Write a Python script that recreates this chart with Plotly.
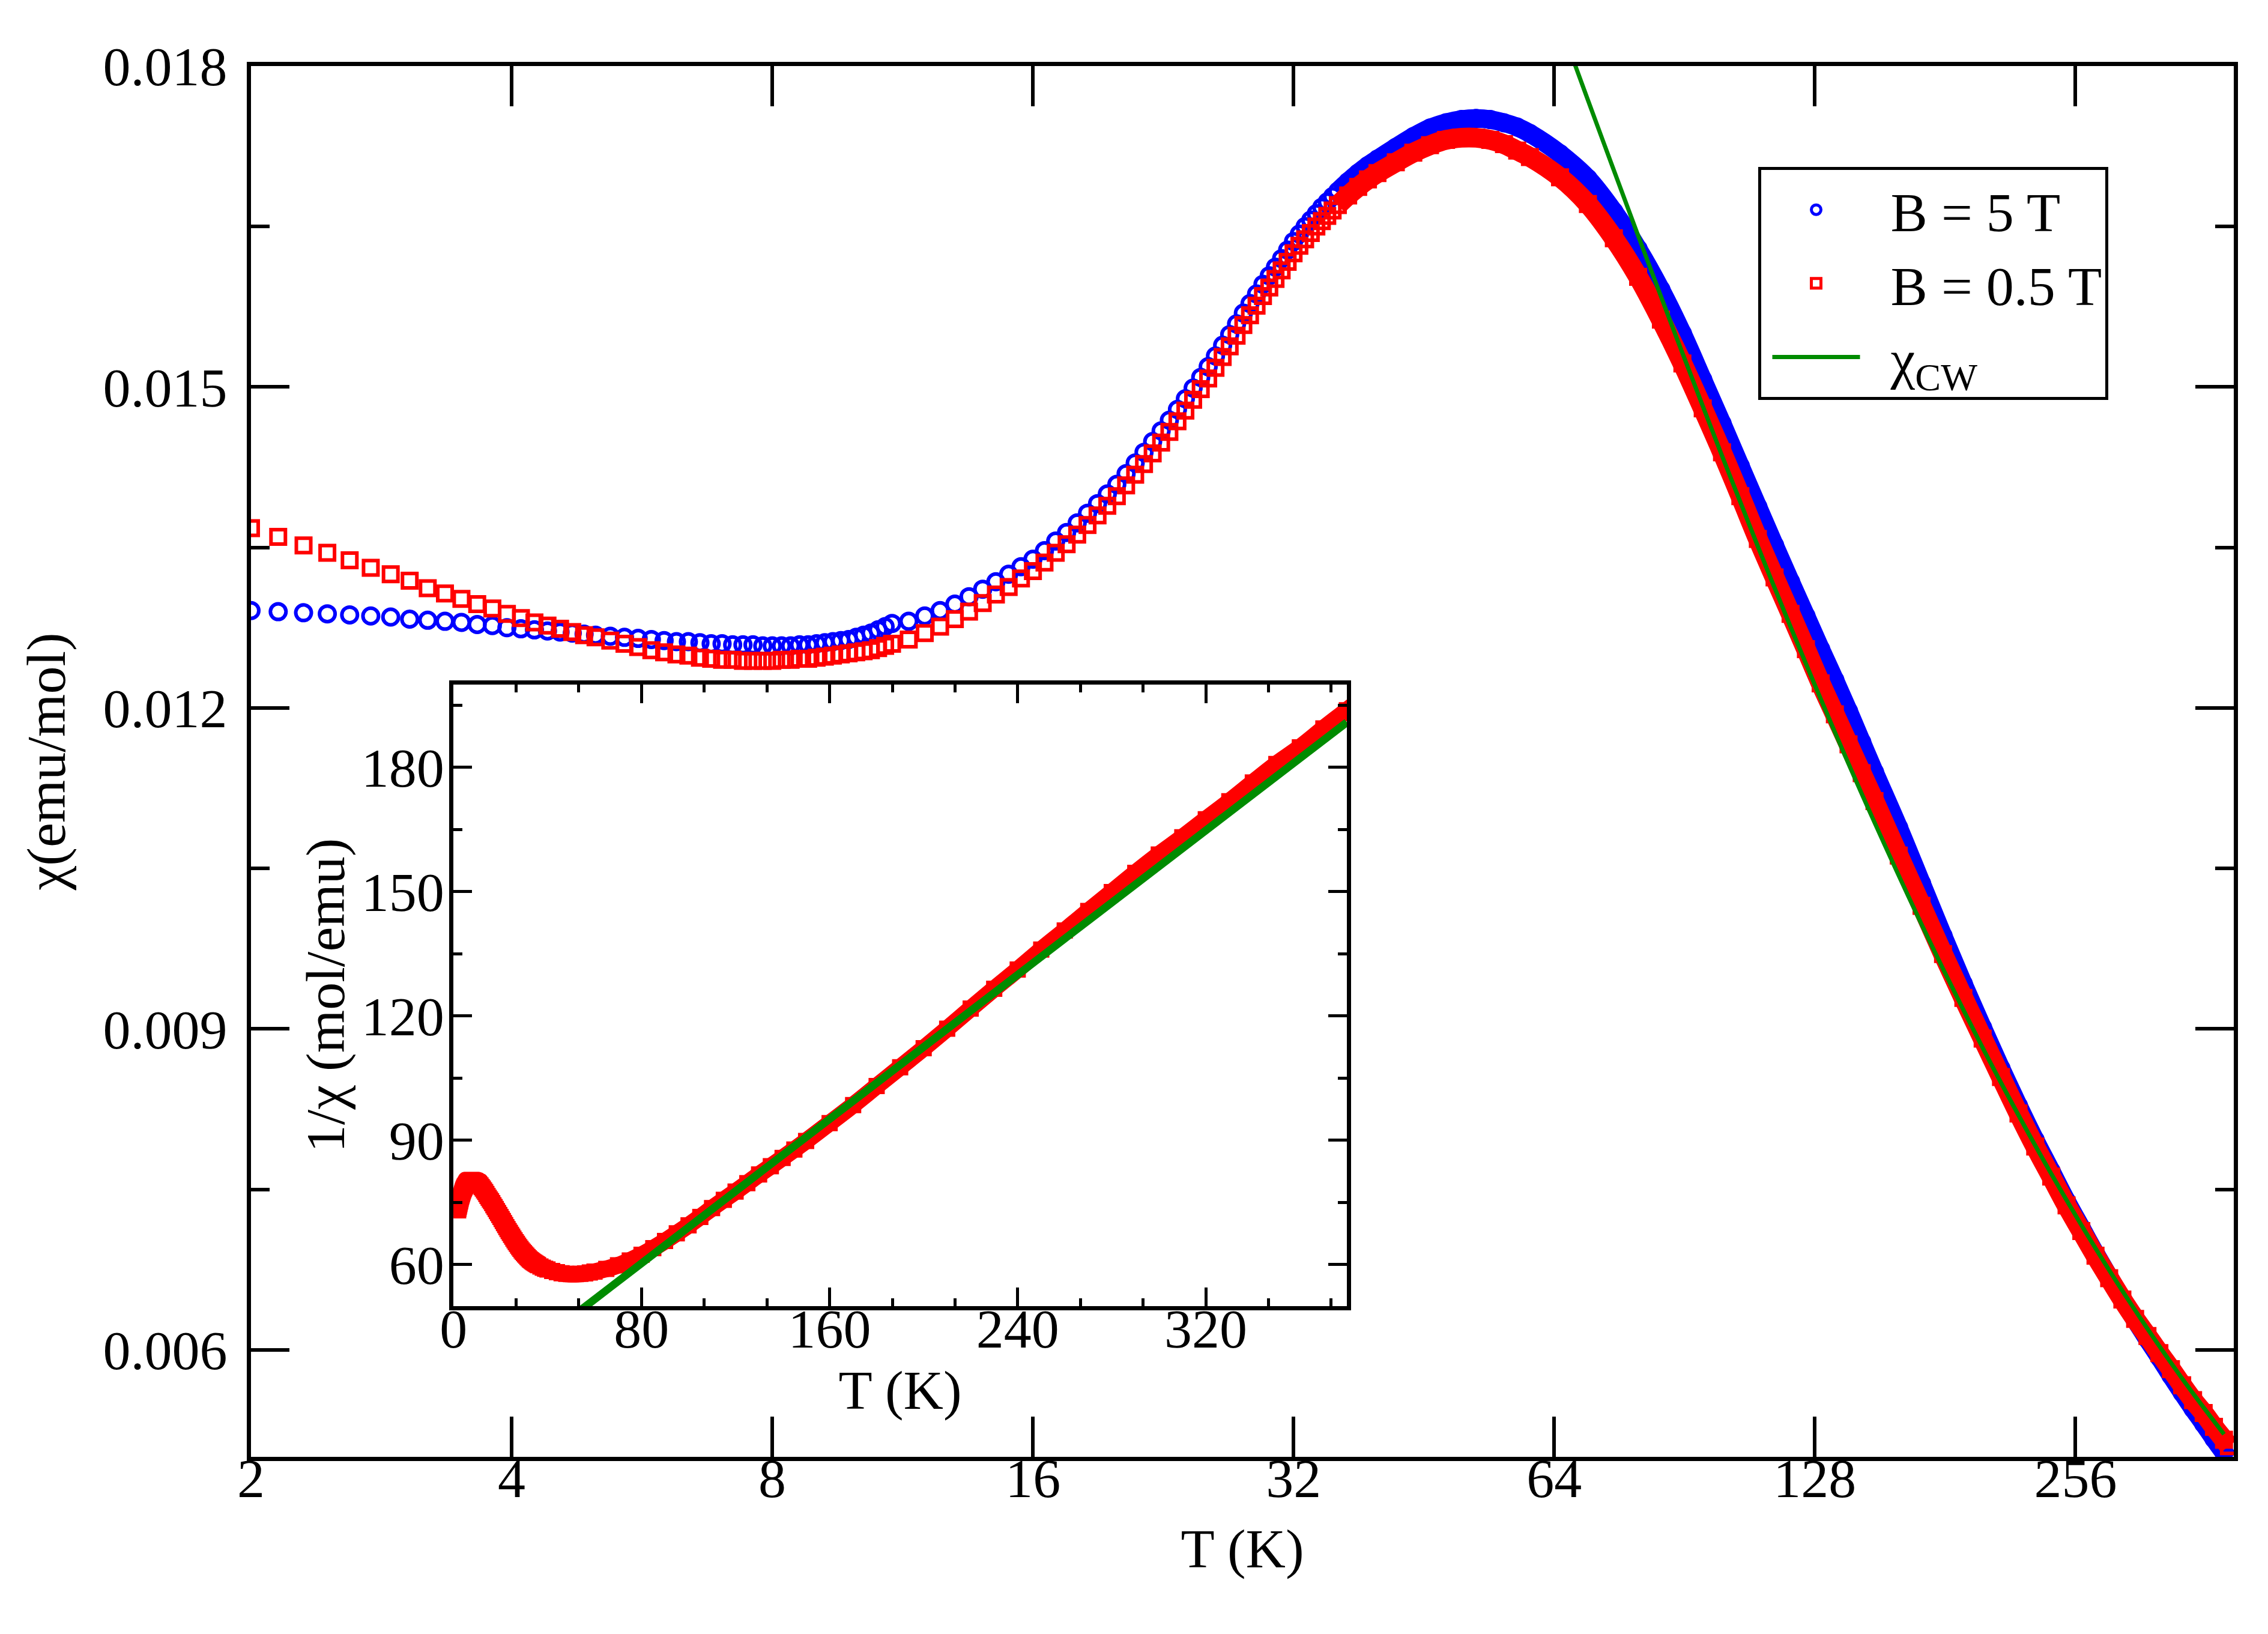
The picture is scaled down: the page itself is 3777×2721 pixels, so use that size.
import math
import plotly.graph_objects as go

# temperature points (K), same grid for both field runs
temp = [2.00, 2.15, 2.30, 2.45, 2.60, 2.75, 2.90, 3.05, 3.20, 3.35, 3.50, 3.65, 3.80, 3.95,
        4.10, 4.25, 4.40, 4.55, 4.70, 4.85, 5.00,
        5.2, 5.4, 5.6, 5.8, 6.0, 6.2, 6.4, 6.6, 6.8, 7.0, 7.2, 7.4, 7.6, 7.8, 8.0,
        8.2, 8.4, 8.6, 8.8, 9.0, 9.2, 9.4, 9.6, 9.8, 10.0, 10.2, 10.4, 10.6, 10.8, 11.0,
        11.5, 12.0, 12.5, 13.0, 13.5, 14.0, 14.5, 15.0, 15.5, 16.0, 16.5, 17.0, 17.5,
        18.0, 18.5, 19.0, 19.5, 20.0, 20.5, 21.0, 21.5, 22.0, 22.5, 23.0, 23.5, 24.0,
        24.5, 25.0, 25.5, 26.0, 26.5, 27.0, 27.5, 28.0, 28.5, 29.0, 29.5, 30.0,
        30.5, 31.0, 31.5, 32.0, 32.5, 33.0, 33.5, 34.0, 34.5, 35.0, 35.5, 36.0,
        37, 38, 39, 40, 42, 44, 46, 48, 50, 52, 54, 56, 58, 60,
        65, 70, 75, 80, 85, 90, 95, 100, 105, 110, 115, 120, 125, 130, 135, 140, 145, 150,
        160, 170, 180, 190, 200, 210, 220, 230, 240, 250, 260, 270, 280, 290, 300,
        310, 320, 330, 340, 350, 360, 370, 380, 385]

# chi (emu/mol) at B = 5 T
chi_5T = [0.01291, 0.01290, 0.01289, 0.01288, 0.01287, 0.01286, 0.01285, 0.01283, 0.01282,
          0.01281, 0.01280, 0.01278, 0.01277, 0.01275, 0.01274, 0.01273, 0.01272, 0.01271,
          0.01270, 0.01269, 0.01268,
          0.01267, 0.01266, 0.01265, 0.01264, 0.01263, 0.01262, 0.01262, 0.01261, 0.01260,
          0.01260, 0.01259, 0.01259, 0.01259, 0.01258, 0.01258, 0.01258, 0.01258, 0.01259,
          0.01259, 0.01260, 0.01261, 0.01262, 0.01263, 0.01264, 0.01266, 0.01268, 0.01270,
          0.01273, 0.01276, 0.01279,
          0.01281, 0.01286, 0.01291, 0.01297, 0.01304, 0.01311, 0.01318, 0.01325, 0.01332,
          0.01339, 0.01347, 0.01356, 0.01364, 0.01373, 0.01382, 0.01391, 0.01400, 0.01409,
          0.01419, 0.01429, 0.01439, 0.01449, 0.01459, 0.01469, 0.01479, 0.01489, 0.01499,
          0.01509, 0.01519, 0.01529, 0.01539, 0.01549, 0.01559, 0.01569, 0.01578, 0.01587,
          0.01596, 0.01604,
          0.01612, 0.01620, 0.01628, 0.01636, 0.01643, 0.01650, 0.01656, 0.01662, 0.01668,
          0.01673, 0.01678, 0.01683,
          0.01692, 0.01700, 0.01707, 0.01713, 0.01724, 0.01734, 0.01742, 0.01747,
          0.01750, 0.01751, 0.01750, 0.01747, 0.01743, 0.01737,
          0.01718, 0.01695, 0.01664, 0.01629, 0.01591, 0.01550, 0.01507, 0.01466, 0.01426,
          0.01388, 0.01352, 0.01318, 0.01286, 0.01255, 0.01226, 0.01197, 0.01168, 0.01140,
          0.01088, 0.01036, 0.00987, 0.00942, 0.00901, 0.00863, 0.00828, 0.00796, 0.00767,
          0.00739, 0.00714, 0.00690, 0.00668, 0.00647, 0.00628, 0.00610, 0.00593, 0.00576,
          0.00560, 0.00545, 0.00531, 0.00517, 0.00504, 0.00498]

# chi (emu/mol) at B = 0.5 T
chi_05T = [0.01368, 0.01360, 0.01352, 0.01345, 0.01338, 0.01331, 0.01325, 0.01319, 0.01312,
           0.01307, 0.01302, 0.01297, 0.01293, 0.01288, 0.01284, 0.01280, 0.01277, 0.01274,
           0.01271, 0.01268, 0.01266,
           0.01263, 0.01260, 0.01257, 0.01254, 0.01252, 0.01250, 0.01249, 0.01247, 0.01246,
           0.01245, 0.01245, 0.01244, 0.01244, 0.01244, 0.01244, 0.01245, 0.01245, 0.01246,
           0.01246, 0.01247, 0.01248, 0.01249, 0.01250, 0.01251, 0.01252, 0.01253, 0.01254,
           0.01256, 0.01258, 0.01260,
           0.01264, 0.01270, 0.01276, 0.01283, 0.01290, 0.01298, 0.01306, 0.01313, 0.01321,
           0.01328, 0.01336, 0.01345, 0.01353, 0.01362, 0.01371, 0.01380, 0.01389, 0.01398,
           0.01408, 0.01418, 0.01428, 0.01438, 0.01448, 0.01458, 0.01468, 0.01478, 0.01488,
           0.01498, 0.01508, 0.01518, 0.01528, 0.01538, 0.01548, 0.01558, 0.01567, 0.01576,
           0.01585, 0.01593,
           0.01601, 0.01609, 0.01617, 0.01625, 0.01632, 0.01638, 0.01644, 0.01650, 0.01655,
           0.01660, 0.01665, 0.01670,
           0.01679, 0.01687, 0.01694, 0.01700, 0.01710, 0.01719, 0.01726, 0.01731,
           0.01733, 0.01733, 0.01731, 0.01727, 0.01721, 0.01715,
           0.01696, 0.01671, 0.01639, 0.01603, 0.01563, 0.01522, 0.01480, 0.01439, 0.01398,
           0.01358, 0.01322, 0.01288, 0.01255, 0.01223, 0.01194, 0.01166, 0.01139, 0.01113,
           0.01062, 0.01015, 0.00970, 0.00929, 0.00891, 0.00855, 0.00821, 0.00790, 0.00762,
           0.00735, 0.00711, 0.00688, 0.00667, 0.00647, 0.00629, 0.00613, 0.00597, 0.00582,
           0.00567, 0.00553, 0.00541, 0.00528, 0.00516, 0.00510]

# Curie-Weiss curve as drawn in the main panel
temp_cw = [67, 70, 75, 80, 85, 90, 100, 110, 120, 135, 150, 170, 190, 210, 240, 270, 300, 340, 380]
chi_cw = [0.018103, 0.017683, 0.017026, 0.016416, 0.015848, 0.015318, 0.014357, 0.013510,
          0.012758, 0.011774, 0.010931, 0.009978, 0.009178, 0.008497, 0.007646, 0.006950,
          0.006370, 0.005732, 0.005211]

# Curie-Weiss line in the inset (1/chi vs T)
temp_cw_inset = [54, 380]
inv_cw_inset = [49.0, 190.9]

# tick labels
xticks_main = [2, 4, 8, 16, 32, 64, 128, 256]
yticks_main = [0.006, 0.009, 0.012, 0.015, 0.018]
xticks_inset = [0, 80, 160, 240, 320]
yticks_inset = [60, 90, 120, 150, 180]

BLUE = "#0000ff"
RED = "#ff0000"
GREEN = "#008b00"
FONT = "Liberation Serif"
NBSP = "\u00a0"

# inverse susceptibility of the 0.5 T run for the inset
inv_05T = [1.0 / v for v in chi_05T]

# where the measured points sit so close they merge into a solid band
dense_main = [i for i, t in enumerate(temp) if t >= 36]
dense_inset = [i for i, t in enumerate(temp) if t >= 14]

fig = go.Figure()

# main panel
fig.add_trace(go.Scatter(x=[temp[i] for i in dense_main], y=[chi_5T[i] for i in dense_main],
                         mode="lines", line=dict(color=BLUE, width=31, shape="spline"),
                         showlegend=False, hoverinfo="skip"))
fig.add_trace(go.Scatter(x=temp, y=chi_5T, mode="markers", name=NBSP * 2 + "B = 5 T",
                         marker=dict(symbol="circle-open", size=26, color=BLUE,
                                     line=dict(color=BLUE, width=6))))
fig.add_trace(go.Scatter(x=[temp[i] for i in dense_main], y=[chi_05T[i] for i in dense_main],
                         mode="lines", line=dict(color=RED, width=33, shape="spline"),
                         showlegend=False, hoverinfo="skip"))
fig.add_trace(go.Scatter(x=temp, y=chi_05T, mode="markers", name=NBSP * 2 + "B = 0.5 T",
                         marker=dict(symbol="square-open", size=24, color=RED,
                                     line=dict(color=RED, width=6))))
fig.add_trace(go.Scatter(x=temp_cw, y=chi_cw, mode="lines", name=NBSP * 2 + "χ<sub>CW</sub>",
                         line=dict(color=GREEN, width=7, shape="spline")))

# inset
fig.add_trace(go.Scatter(x=[temp[i] for i in dense_inset], y=[inv_05T[i] for i in dense_inset],
                         mode="lines", line=dict(color=RED, width=28, shape="spline"),
                         xaxis="x2", yaxis="y2", showlegend=False, hoverinfo="skip"))
fig.add_trace(go.Scatter(x=temp, y=inv_05T, mode="markers", xaxis="x2", yaxis="y2",
                         marker=dict(symbol="square-open", size=22, color=RED,
                                     line=dict(color=RED, width=5)),
                         showlegend=False))
fig.add_trace(go.Scatter(x=temp_cw_inset, y=inv_cw_inset, mode="lines", xaxis="x2", yaxis="y2",
                         line=dict(color=GREEN, width=13), showlegend=False))

axis_common = dict(showline=True, linecolor="black", linewidth=7, mirror="ticks",
                   ticks="inside", tickcolor="black", showgrid=False, zeroline=False,
                   tickfont=dict(family=FONT, size=92, color="black"))

fig.update_layout(
    width=3777, height=2721,
    margin=dict(l=410, r=65, t=102, b=303),
    paper_bgcolor="white", plot_bgcolor="white",
    font=dict(family=FONT, size=92, color="black"),
    legend=dict(x=0.760, y=0.9275, xanchor="left", yanchor="top",
                bgcolor="white", bordercolor="black", borderwidth=5,
                font=dict(family=FONT, size=92), itemwidth=146, indentation=14),
    xaxis=dict(axis_common, type="log", range=[math.log10(2), math.log10(390)],
               tickvals=xticks_main, ticktext=[str(v) for v in xticks_main],
               ticklen=67, tickwidth=6, ticklabelstandoff=-50,
               title=dict(text="T (K)", standoff=36, font=dict(family=FONT, size=92))),
    yaxis=dict(axis_common, range=[0.005, 0.018],
               tickvals=yticks_main, ticktext=["%.3f" % v for v in yticks_main],
               ticklen=64, tickwidth=6, ticklabelstandoff=14,
               minor=dict(dtick=0.0015, tick0=0, ticks="inside", ticklen=31, tickwidth=6,
                          tickcolor="black", showgrid=False),
               title=dict(text="χ(emu/mol)", standoff=35, font=dict(family=FONT, size=92))),
    xaxis2=dict(axis_common, domain=[0.1021, 0.5527], anchor="y2", range=[0, 380],
                tickvals=xticks_inset, ticktext=[str(v) for v in xticks_inset],
                ticklen=31, tickwidth=5, ticklabelstandoff=-48,
                minor=dict(dtick=80 / 3, tick0=0, ticks="inside", ticklen=13, tickwidth=5,
                           tickcolor="black", showgrid=False),
                title=dict(text="T (K)", standoff=3, font=dict(family=FONT, size=92))),
    yaxis2=dict(axis_common, domain=[0.1084, 0.5553], anchor="x2", range=[50, 200],
                tickvals=yticks_inset, ticktext=[str(v) for v in yticks_inset],
                ticklen=31, tickwidth=5, ticklabelstandoff=-10,
                minor=dict(dtick=15, tick0=0, ticks="inside", ticklen=15, tickwidth=5,
                           tickcolor="black", showgrid=False),
                title=dict(text="1/χ (mol/emu)", standoff=0, font=dict(family=FONT, size=92))),
)

fig.write_html("out.html")
